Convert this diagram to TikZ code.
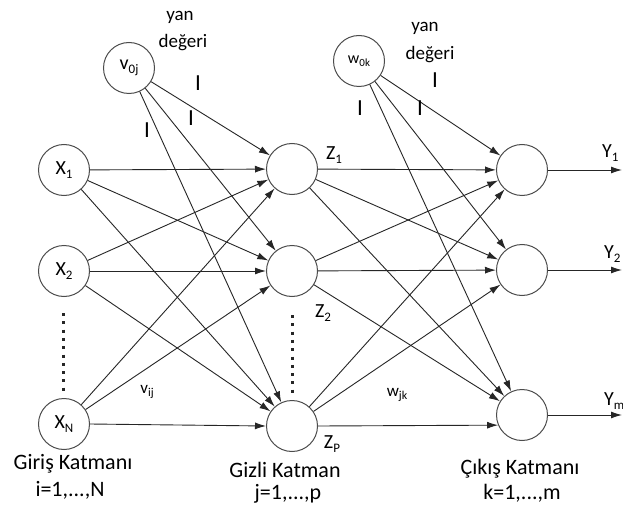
\documentclass[tikz,border=0pt]{standalone}
\usepackage{fontspec}
\setmainfont{Carlito}
\usetikzlibrary{arrows.meta}
\newcommand\sbs[1]{\raisebox{-0.4ex}{\fontsize{13}{13}\selectfont #1}}
\begin{document}
\begin{tikzpicture}[x=1pt,y=-1pt,
  neuron/.style={circle,draw=black!70,line width=1pt,minimum size=51pt,inner sep=0pt,font=\fontsize{20}{20}\selectfont},
  conn/.style={draw=black!85,line width=0.9pt,-{Latex[length=11pt,width=7pt]}},
  lbl/.style={font=\fontsize{20}{20}\selectfont,inner sep=0pt},
  big/.style={font=\fontsize{22}{22}\selectfont,inner sep=0pt},
  small/.style={font=\fontsize{19}{19}\selectfont,inner sep=0pt},
  one/.style={font=\fontsize{23}{23}\selectfont,inner sep=0pt},
  dotline/.style={line width=3pt,dash pattern=on 3pt off 5.3pt,black!85}]
\useasboundingbox (0,0) rectangle (623,505);
\fill[white] (0,0) rectangle (623,505);
% nodes
\node[neuron] (X1) at (64,170) {X\sbs{1}};
\node[neuron] (X2) at (64,271) {X\sbs{2}};
\node[neuron] (XN) at (64,424) {X\sbs{N}};
\node[neuron] (H1) at (292,169) {};
\node[neuron] (H2) at (292,271) {};
\node[neuron] (H3) at (292,426) {};
\node[neuron] (O1) at (522,170) {};
\node[neuron] (O2) at (522,270) {};
\node[neuron] (O3) at (522,415) {};
\node[neuron] (V) at (129,68) {v\sbs{0j}};
\node[neuron] (W) at (359,61) {\fontsize{16}{16}\selectfont w\raisebox{-0.4ex}{\fontsize{11}{11}\selectfont 0k}};
\coordinate (Y1e) at (622,170);
\coordinate (Y2e) at (622,270);
\coordinate (Y3e) at (622,415);
% input -> hidden
\foreach \a in {X1,X2,XN}{
  \foreach \b in {H1,H2}{ \draw[conn] (\a) -- (\b); }
}
\draw[conn] (X1) -- (H3);
\draw[conn] (X2) -- (H3);
\draw[conn] (XN.east) -- (H3.west);
% bias
\foreach \b in {H1,H2,H3}{ \draw[conn] (V) -- (\b); }
\foreach \b in {O1,O2,O3}{ \draw[conn] (W) -- (\b); }
% hidden -> output
\foreach \a in {H1,H2}{
  \foreach \b in {O1,O2,O3}{ \draw[conn] (\a) -- (\b); }
}
\draw[conn] (H3) -- (O1);
\draw[conn] (H3) -- (O2);
\draw[conn] (H3.east) -- (O3.203);
% outputs
\draw[conn] (O1) -- (Y1e);
\draw[conn] (O2) -- (Y2e);
\draw[conn] (O3) -- (Y3e);
% dots
\draw[dotline] (63,313) -- (63,392);
\draw[dotline] (292,315) -- (292,394);
% texts
\node[small] (t1) at (180,17) {yan};
\node[small] (t2) at (183,43) {değeri};
\node[small] (t3) at (425,28) {yan};
\node[small] (t4) at (430,55) {değeri};
\node[one] (i1) at (198,83) {I};
\node[one] (i2) at (191,118) {I};
\node[one] (i3) at (147,130) {I};
\node[one] (i4) at (435,80) {I};
\node[one] (i5) at (420,108) {I};
\node[one] (i6) at (360,108) {I};
\node[lbl] (z1) at (334,155) {Z\sbs{1}};
\node[lbl] (z2) at (323,313) {Z\sbs{2}};
\node[lbl] (zp) at (332,444) {Z\sbs{P}};
\node[lbl] (vij) at (147,392) {\fontsize{17}{17}\selectfont v\raisebox{-0.4ex}{\fontsize{12}{12}\selectfont ij}};
\node[lbl] (wjk) at (397,395) {\fontsize{17}{17}\selectfont w\raisebox{-0.4ex}{\fontsize{12}{12}\selectfont jk}};
\node[lbl,anchor=west] (y1) at (602,153) {Y\sbs{1}};
\node[lbl,anchor=west] (y2) at (604,254) {Y\sbs{2}};
\node[lbl,anchor=west] (y3) at (604,401) {Y\sbs{m}};
\node[big] (g1) at (73,464) {Giriş Katmanı};
\node[big] (g2) at (70,490) {i=1,...,N};
\node[big] (h1) at (285,470) {Gizli Katman};
\node[big] (h2) at (288,494) {j=1,...,p};
\node[big] (c1) at (520,469) {Çıkış Katmanı};
\node[big] (c2) at (522,493) {k=1,...,m};
\end{tikzpicture}
\end{document}
